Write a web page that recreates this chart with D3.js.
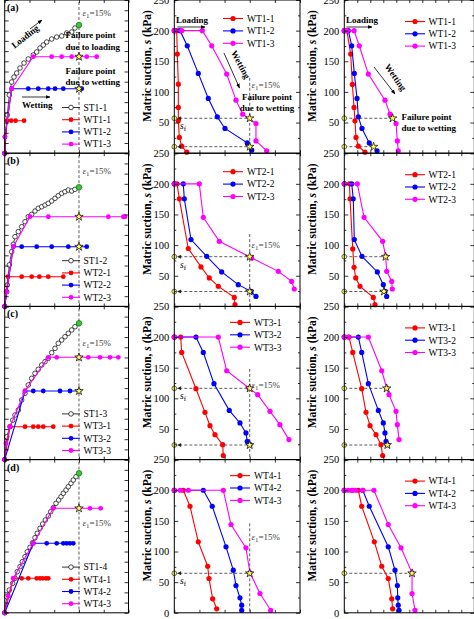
<!DOCTYPE html>
<html><head><meta charset="utf-8">
<script src="https://cdn.jsdelivr.net/npm/d3@7"></script>
<style>body{margin:0;background:#fff}svg{display:block}text{font-family:"Liberation Serif","Times New Roman",serif}</style>
</head><body><svg id="c" width="474" height="619"></svg>
<script>
// ---------------- DATA ----------------
const panelTags = ["(a)","(b)","(c)","(d)"];
const stNames = ["ST1-1","ST1-2","ST1-3","ST1-4"];
const wtNames = [["WT1-1","WT1-2","WT1-3"],["WT2-1","WT2-2","WT2-3"],["WT3-1","WT3-2","WT3-3"],["WT4-1","WT4-2","WT4-3"]];

// left column: axial strain (%) vs stress
const st1 = [[0,0],[0.52,74.8],[0.93,114],[1.41,139.4],[1.88,149.2],[2.42,157],[3.09,166.8],[3.9,176.6],[4.76,184.5],[5.77,192.3],[6.46,198.2],[7.13,206],[7.79,211.8],[8.48,217.7],[9.49,223.6],[10.5,227.5],[11.51,229.5],[12.52,235.3],[13.53,237.3],[14.19,245.1],[15,251]];
const st2 = [[0,0],[0.4,28.8],[0.52,41.9],[0.93,81.1],[1.41,107.1],[1.74,121.6],[2.08,136.5],[2.75,146.3],[3.43,156.1],[4.1,165.8],[4.76,175.6],[5.45,180.3],[6.12,186.8],[6.78,192.1],[7.47,195.2],[8.14,198.5],[8.8,201.9],[9.49,206.4],[10.16,211.7],[10.82,216.8],[11.51,221.4],[12.17,224.6],[12.84,227.9],[13.53,226],[14.19,229.3],[15,233.2]];
const st3 = [[0,0],[0.4,44.8],[1.07,64.4],[1.62,77.2],[2.08,87.3],[2.75,97.1],[3.43,116.7],[4.1,129.8],[4.76,146.1],[5.45,159.2],[6.12,169],[6.78,176.8],[7.47,185.2],[8.14,191.7],[8.8,198.3],[9.49,209.3],[10.16,217.9],[10.82,227.7],[11.51,234.2],[12.17,240.6],[12.84,247.3],[13.53,253.8],[14.19,260.2],[15,266.9]];
const st4 = [[0,0],[0.4,31.5],[0.93,44.6],[1.61,57.8],[2.08,67.6],[2.54,80.5],[3.09,90.3],[3.55,100.1],[4.1,109.8],[4.56,119.6],[5.11,128.2],[5.65,137.3],[6.12,147],[6.58,155.7],[7.13,165.5],[7.67,173.9],[8.2,181.7],[8.8,189.5],[9.29,198],[9.81,205.8],[10.36,214.4],[10.9,220.9],[11.37,227.3],[11.83,234],[12.38,240.4],[12.84,246.9],[13.39,253.6],[13.85,260],[14.4,266.5],[15,273.1]];

const lw11 = [[0,0],[0.46,63.6],[1.3,63.6],[2.2,63.6],[3.9,63.6]];
const lw12 = [[0,0],[0.05,32],[1.41,126.3],[4.76,126.3],[6.78,126.3],[8.8,126.3],[10.16,126.3],[11.83,126.3],[15,126.3],[15.55,126.3]];
const lw13 = [[0,0],[0.05,32],[1.41,126.3],[5.77,189],[9.49,189],[11.51,189],[13.53,189],[15,189],[16.56,189],[18.57,189]];
const lw21 = [[0,0],[0.67,58.2],[3.43,58.2],[5.45,58.2],[6.99,58.2],[8.8,58.2],[11.83,58.2]];
const lw22 = [[0,0],[1.74,116.9],[3.43,116.9],[6.46,116.9],[9.49,116.9],[12.84,116.9],[15,116.9],[16.56,116.9]];
const lw23 = [[0,0],[0.4,28.8],[1.74,116.9],[5.11,175.6],[8.8,175.6],[15,175.6],[20.92,175.6],[23.95,175.6],[24.3,175.6]];
const lw31 = [[0,0],[1.07,64.4],[4.1,64.4],[5.77,64.4],[6.78,64.4],[7.79,64.4],[9.81,64.4]];
const lw32 = [[0,0],[4.1,134.3],[5.77,134.3],[7.79,134.3],[11.17,134.3],[13.18,134.3],[15,134.3]];
const lw33 = [[0,0],[0.26,32],[1.07,64.4],[4.1,134.3],[8.8,200.3],[10.5,200.3],[15,200.3],[16.88,200.3],[19.24,200.3],[21.26,200.3],[22.94,200.3]];
const lw41 = [[0,0],[1.74,67.6],[3.43,67.6],[4.76,67.6],[6.46,67.6],[7.13,67.6],[7.67,67.6],[8.34,67.6],[8.8,67.6]];
const lw42 = [[0,0],[5.77,136.1],[8.48,136.1],[10.5,136.1],[11.83,136.1],[12.52,136.1],[13.18,136.1],[13.85,136.1]];
const lw43 = [[0,0],[0.73,32.6],[1.74,67.6],[5.77,136.1],[9.81,204.6],[15,204.6],[17.22,204.6],[19.38,204.6]];
const leftStars = [[[15,126.3],[15,189]],[[15,116.9],[15,175.6]],[[15,134.3],[15,200.3]],[[15,204.6]]];

// middle column: axial strain (%) vs matric suction (kPa)
const mw11 = [[0,200],[0.48,200],[0.6,161.8],[0.8,112.7],[0.8,74.7],[0.8,52.8],[1.0,25.7],[1.47,11.4],[2.47,1.6]];
const mw12 = [[0,200],[1.13,200],[2.58,175.3],[4.77,130.2],[6.76,89.4],[8.55,59.3],[10.08,40.4],[14.5,16.8],[15.4,4.9]];
const mw13 = [[0,200],[1.47,200],[5.57,200],[7.44,175.3],[10.42,129.1],[12.27,86.6],[13.6,63.7],[16.24,48.5],[16.24,20.1],[18.37,3.8]];
const mw21 = [[0,200],[0.54,200],[1.0,175.5],[2.78,94.4],[5.31,64.4],[6.96,46.4],[8.75,32.7],[11.93,14.7],[12.07,2.8]];
const mw22 = [[0,200],[1.79,200],[1.99,175.5],[3.32,109],[6.44,81.7],[9.42,56.2],[12.72,35.5],[15.25,24.5],[16.24,16.3]];
const mw23 = [[0,200],[4.97,200],[5.77,145.4],[8.95,106.2],[15.39,79.1],[20.68,57.2],[23.34,40.8],[23.86,28.4]];
const mw31 = [[0,200],[1.27,200],[1.47,174.9],[4.31,115.7],[6.1,77.1],[7.1,55.4],[8.09,40.7],[9.62,24.4],[9.74,6.5]];
const mw32 = [[0,200],[4.31,200],[5.77,174.9],[7.89,123.9],[10.93,80.3],[13.06,59.8],[14.25,43.5],[14.51,29.8],[15.05,24.4]];
const mw33 = [[0,200],[8.75,200],[10.42,145],[14.85,116.8],[16.58,105.9],[19.03,78.7],[21.0,57.0],[22.8,32.6]];
const mw41 = [[0,200],[1.79,200],[3.12,173.9],[4.77,115.8],[6.64,76],[6.9,56],[7.63,22.8],[8.43,6.5]];
const mw42 = [[0,200],[5.77,200],[7.55,173.9],[10.28,107.7],[11.73,69.5],[12.27,44.5],[13.06,24.5],[13.4,12.4],[13.4,4.2]];
const mw43 = [[0,200],[1.2,200],[2.8,200],[9.74,200],[11.27,144.1],[14.25,106],[15.05,65.3],[17.04,31.5],[19.17,4.2]];

// right column: strain vs matric suction (kPa)
const rw11 = [[0,200],[0.2,200],[0.49,161.8],[0.62,112.3],[0.75,74.7],[0.82,52.8],[0.9,25.7],[1.08,11.4],[1.59,1.6]];
const rw12 = [[0,200],[0.31,200],[0.57,175.3],[0.77,130.2],[0.98,89.4],[1.08,59.3],[1.36,40.4],[1.92,16.8],[2.52,3.8]];
const rw13 = [[0,200],[0.2,200],[0.75,200],[1.15,175.3],[1.85,129.1],[3.13,86.6],[3.52,63.7],[3.98,48.5],[4.08,20.1],[4.15,3.8]];
const rw21 = [[0,200],[0.4,200],[0.44,175.5],[0.65,93.8],[0.75,63.7],[0.88,46.4],[1.21,32.7],[2.23,14.7],[2.36,2.8]];
const rw22 = [[0,200],[0.57,200],[0.69,175.5],[0.77,109],[1.36,81.7],[2.54,56.2],[3.0,35.5],[3.13,24.5],[3.26,16.3]];
const rw23 = [[0,200],[1.0,200],[1.52,145.4],[2.95,106.2],[3.18,81.7],[3.26,57.2],[3.65,40.8],[3.69,28.4]];
const rw31 = [[0,200],[0.36,200],[0.65,174.9],[1.34,115.7],[1.67,77.1],[1.98,55.4],[2.44,40.7],[2.82,24.4],[2.95,6.5]];
const rw32 = [[0,200],[1.08,200],[1.34,174.9],[1.85,123.9],[2.62,80.3],[3.0,59.8],[3.13,43.5],[3.21,29.8],[3.31,24.4]];
const rw33 = [[0,200],[0.3,200],[1.85,200],[2.88,145],[3.26,116.8],[3.44,105.9],[3.98,78.7],[4.08,57],[4.21,32.6]];
const rw41 = [[0,200],[0.6,200],[1.08,200],[1.34,173.9],[2.31,115.8],[2.88,76],[3.38,56],[3.65,22.8],[3.72,6.5]];
const rw42 = [[0,200],[1.42,200],[1.92,173.9],[3.38,107.7],[3.9,69.5],[4.08,44.5],[4.11,24.5],[4.15,12.4],[4.21,4.2]];
const rw43 = [[0,200],[0.3,200],[0.6,200],[0.85,200],[1.42,200],[2.28,200],[3.38,144.1],[4.36,106],[5.21,65.3],[5.21,31.5],[5.44,4.2]];

// failure suctions (kPa) and failure points in right column
const failSuction = [[57,10.6],[81.1,24.3],[116.3,23.8],[64.5]];
const rightStarX = [[3.72,2.25],[3.18,3.05],[3.26,3.31],[5.21]];
const epsLineTop = [123,118,148,146];
const suctionTicks = [0,50,100,150,200,250];

// ---------------- DRAW ----------------
const leftSeries = [[lw11,lw12,lw13],[lw21,lw22,lw23],[lw31,lw32,lw33],[lw41,lw42,lw43]];
const stSeries = [st1,st2,st3,st4];
const midSeries = [[mw11,mw12,mw13],[mw21,mw22,mw23],[mw31,mw32,mw33],[mw41,mw42,mw43]];
const rightSeries = [[rw11,rw12,rw13],[rw21,rw22,rw23],[rw31,rw32,rw33],[rw41,rw42,rw43]];
const COLORS = ["#ff0000","#0000ff","#ff00ff"];
const rowTop = [0,153.2,306.4,459.6], rowH = 153.2;

const svg = d3.select("#c");
const defs = svg.append("defs");
defs.append("marker").attr("id","ah").attr("viewBox","0 0 10 10").attr("refX",9).attr("refY",5)
  .attr("markerWidth",6).attr("markerHeight",6).attr("orient","auto")
  .append("path").attr("d","M0,1L10,5L0,9z").attr("fill","#000");

const line = (x,y)=>d3.line().x(d=>x(d[0])).y(d=>y(d[1]));
const star = d3.symbol().type(d3.symbolStar).size(22);

function ticks(g,x,y,xt,ytMaj,ytMin,labels,labelVals){
  const rm = s=>s.call(q=>q.select(".domain").remove());
  const b = y.range()[0], t = y.range()[1], l = x.range()[0], r = x.range()[1];
  g.append("g").attr("transform",`translate(0,${b})`).call(d3.axisBottom(x).tickValues(xt).tickSize(-3).tickFormat("")).call(rm);
  g.append("g").attr("transform",`translate(0,${t})`).call(d3.axisTop(x).tickValues(xt).tickSize(-3).tickFormat("")).call(rm);
  g.append("g").attr("transform",`translate(${r},0)`).call(d3.axisRight(y).tickValues(ytMaj).tickSize(-4).tickFormat("")).call(rm);
  g.append("g").attr("transform",`translate(${l},0)`).call(d3.axisLeft(y).tickValues(ytMaj).tickSize(-4).tickPadding(5)
     .tickFormat(d=> labels && labelVals.includes(d) ? d : "")).call(rm);
  if(ytMin){
    g.append("g").attr("transform",`translate(${l},0)`).call(d3.axisLeft(y).tickValues(ytMin).tickSize(-2).tickFormat("")).call(rm);
    g.append("g").attr("transform",`translate(${r},0)`).call(d3.axisRight(y).tickValues(ytMin).tickSize(-2).tickFormat("")).call(rm);
  }
  g.selectAll(".tick line").attr("stroke","#000").attr("stroke-width",0.8);
  g.selectAll(".tick text").attr("font-size",10.5).attr("font-family",'"Liberation Serif",serif').attr("fill","#000");
  g.append("rect").attr("x",l).attr("y",t).attr("width",r-l).attr("height",b-t).attr("fill","none").attr("stroke","#000").attr("stroke-width",1);
}

function drawWT(g,data,x,y,color,r){
  g.append("path").attr("d",line(x,y)(data)).attr("fill","none").attr("stroke",color).attr("stroke-width",1.1);
  g.selectAll(null).data(data).enter().append("circle").attr("cx",d=>x(d[0])).attr("cy",d=>y(d[1])).attr("r",r).attr("fill",color);
}
function drawStar(g,px,py){
  g.append("path").attr("d",star()).attr("transform",`translate(${px},${py})`).attr("fill","#ffff55").attr("stroke","#000").attr("stroke-width",0.7);
}
function epsText(g,px,py){
  const t = g.append("text").attr("x",px).attr("y",py).attr("font-size",9).attr("fill","#444");
  t.append("tspan").attr("font-style","italic").text("ε");
  t.append("tspan").attr("dy",2).attr("font-size",7).text("1");
  t.append("tspan").attr("dy",-2).text("=15%");
}
function yLabel(px,py){
  const t = svg.append("text").attr("transform",`translate(${px},${py}) rotate(-90)`).attr("text-anchor","middle")
    .attr("font-size",11.5).attr("font-weight","bold");
  t.append("tspan").text("Matric suction, ");
  t.append("tspan").attr("font-style","italic").text("s");
  t.append("tspan").text(" (kPa)");
}
function boldText(g,px,py,s,anchor){
  return g.append("text").attr("x",px).attr("y",py).attr("font-size",9).attr("font-weight","bold").attr("text-anchor",anchor||"start").text(s);
}
function arrow(g,x1,y1,x2,y2){
  g.append("line").attr("x1",x1).attr("y1",y1).attr("x2",x2).attr("y2",y2).attr("stroke","#000").attr("stroke-width",0.8).attr("marker-end","url(#ah)");
}
function dashed(g,x1,y1,x2,y2){
  g.append("line").attr("x1",x1).attr("y1",y1).attr("x2",x2).attr("y2",y2).attr("stroke","#333").attr("stroke-width",0.8).attr("stroke-dasharray","3,2");
}
function axisDot(g,px,py){
  g.append("circle").attr("cx",px).attr("cy",py).attr("r",2.4).attr("fill","#ffff55").attr("stroke","#333").attr("stroke-width",0.7);
}

for(let i=0;i<4;i++){
  const top = rowTop[i], bot = top+rowH;
  // ---- left ----
  {
    const g = svg.append("g");
    const x = d3.scaleLinear().domain([0,25]).range([4.7,128.5]);
    const y = d3.scaleLinear().domain([0,300]).range([bot,top]);
    dashed(g,x(15),top+2,x(15),bot);
    // ST curve
    g.append("path").attr("d",line(x,y)(stSeries[i])).attr("fill","none").attr("stroke","#000").attr("stroke-width",0.7);
    g.selectAll(null).data(stSeries[i].slice(0,-1)).enter().append("circle").attr("cx",d=>x(d[0])).attr("cy",d=>y(d[1]))
      .attr("r",2.3).attr("fill","#fff").attr("stroke","#000").attr("stroke-width",0.7);
    leftSeries[i].forEach((s,k)=>drawWT(g,s,x,y,COLORS[k],2.4));
    leftStars[i].forEach(p=>drawStar(g,x(p[0]),y(p[1])));
    const e = stSeries[i][stSeries[i].length-1];
    g.append("circle").attr("cx",x(e[0])).attr("cy",y(e[1])).attr("r",2.8).attr("fill","#33cc33").attr("stroke","#1a5e1a").attr("stroke-width",0.7);
    ticks(g,x,y,d3.range(0,26,5),d3.range(0,301,20),null,false,[]);
    g.append("text").attr("x",7).attr("y",top+11).attr("font-size",10).attr("font-weight","bold").text(panelTags[i]);
    epsText(g,82.5,[16,174,346,526][i]);
    // legend
    const names = [stNames[i]].concat(wtNames[i]);
    names.forEach((n,k)=>{
      const ly = top+107.5+k*12.2;
      g.append("line").attr("x1",62).attr("x2",80).attr("y1",ly).attr("y2",ly).attr("stroke",k===0?"#000":COLORS[k-1]).attr("stroke-width",k===0?0.8:1.1);
      if(k===0) g.append("circle").attr("cx",71).attr("cy",ly).attr("r",2.3).attr("fill","#fff").attr("stroke","#000").attr("stroke-width",0.7);
      else g.append("circle").attr("cx",71).attr("cy",ly).attr("r",2.4).attr("fill",COLORS[k-1]);
      g.append("text").attr("x",83.5).attr("y",ly+3.3).attr("font-size",9.5).text(n);
    });
    if(i===0){
      boldText(g,65.5,38,"Failure point");
      boldText(g,65.5,49.5,"due to loading");
      boldText(g,65.5,73.5,"Failure point");
      boldText(g,65.5,84.5,"due to wetting");
      boldText(g,22,108,"Wetting");
      arrow(g,22,97,50,97);
      g.append("text").attr("transform","translate(27,39) rotate(-38)").attr("text-anchor","middle").attr("font-size",9).attr("font-weight","bold").text("Loading");
      arrow(g,30,29,42,20);
    }
  }
  // ---- middle ----
  {
    const g = svg.append("g");
    const x = d3.scaleLinear().domain([0,25]).range([174.3,300]);
    const y = d3.scaleLinear().domain([0,250]).range([bot,top]);
    dashed(g,x(15),y(epsLineTop[i]),x(15),bot);
    failSuction[i].forEach(sf=>{ dashed(g,x(0),y(sf),x(15),y(sf)); });
    midSeries[i].forEach((s,k)=>drawWT(g,s,x,y,COLORS[k],2.6));
    failSuction[i].forEach(sf=>{
      drawStar(g,x(15),y(sf));
      axisDot(g,x(0),y(sf));
      g.append("path").attr("d",`M${x(0)+2.8},${y(sf)}l4,-2l0,4z`).attr("fill","#222");
    });
    const sft = g.append("text").attr("x",180).attr("y",y(failSuction[i][0])+11).attr("font-size",9.5);
    sft.append("tspan").attr("font-style","italic").text("s");
    sft.append("tspan").attr("dy",2).attr("font-size",7).text("f");
    ticks(g,x,y,d3.range(0,26,5),d3.range(0,251,50),d3.range(25,251,50),true,i===3?suctionTicks:suctionTicks.slice(1));
    epsText(g,251.5,[88,247.5,388,540][i]);
    const lx = i<2?223:230;
    wtNames[i].forEach((n,k)=>{
      const ly = top+(i<2?18.5:16)+k*12.4;
      g.append("line").attr("x1",lx).attr("x2",lx+20).attr("y1",ly).attr("y2",ly).attr("stroke",COLORS[k]).attr("stroke-width",1.1);
      g.append("circle").attr("cx",lx+10).attr("cy",ly).attr("r",2.6).attr("fill",COLORS[k]);
      g.append("text").attr("x",lx+24).attr("y",ly+3.3).attr("font-size",9.5).text(n);
    });
    if(i===0){
      boldText(g,192,23,"Loading","middle");
      arrow(g,177.5,27,205,27);
      g.append("text").attr("transform","translate(238,66) rotate(62)").attr("text-anchor","middle").attr("font-size",9).attr("font-weight","bold").text("Wetting");
      arrow(g,224,53,239.5,88);
      boldText(g,267,99.5,"Failure point","middle");
      boldText(g,267,110.5,"due to wetting","middle");
    }
    yLabel(150.5,top+66);
  }
  // ---- right ----
  {
    const g = svg.append("g");
    const x = d3.scaleLinear().domain([0,10]).range([344.3,474.3]);
    const y = d3.scaleLinear().domain([0,250]).range([bot,top]);
    failSuction[i].forEach((sf,k)=>{ dashed(g,x(0),y(sf),x(rightStarX[i][k])+2,y(sf)); });
    rightSeries[i].forEach((s,k)=>drawWT(g,s,x,y,COLORS[k],2.6));
    failSuction[i].forEach((sf,k)=>{
      drawStar(g,x(rightStarX[i][k]),y(sf));
      axisDot(g,x(0),y(sf));
    });
    ticks(g,x,y,d3.range(0,11,1),d3.range(0,251,50),d3.range(25,251,50),true,i===3?suctionTicks:suctionTicks.slice(1));
    wtNames[i].forEach((n,k)=>{
      const ly = top+21.5+k*12.3;
      g.append("line").attr("x1",405).attr("x2",425).attr("y1",ly).attr("y2",ly).attr("stroke",COLORS[k]).attr("stroke-width",1.1);
      g.append("circle").attr("cx",415).attr("cy",ly).attr("r",2.6).attr("fill",COLORS[k]);
      g.append("text").attr("x",428.5).attr("y",ly+3.3).attr("font-size",9.5).text(n);
    });
    if(i===0){
      boldText(g,362,23,"Loading","middle");
      arrow(g,346.5,27,372,27);
      g.append("text").attr("transform","translate(393,79) rotate(55)").attr("text-anchor","middle").attr("font-size",9).attr("font-weight","bold").text("Wetting");
      arrow(g,374,67,395,94);
      boldText(g,401.5,119.5,"Failure point");
      boldText(g,401.5,130.5,"due to wetting");
    }
    yLabel(315.5,top+66);
  }
}
</script></body></html>
